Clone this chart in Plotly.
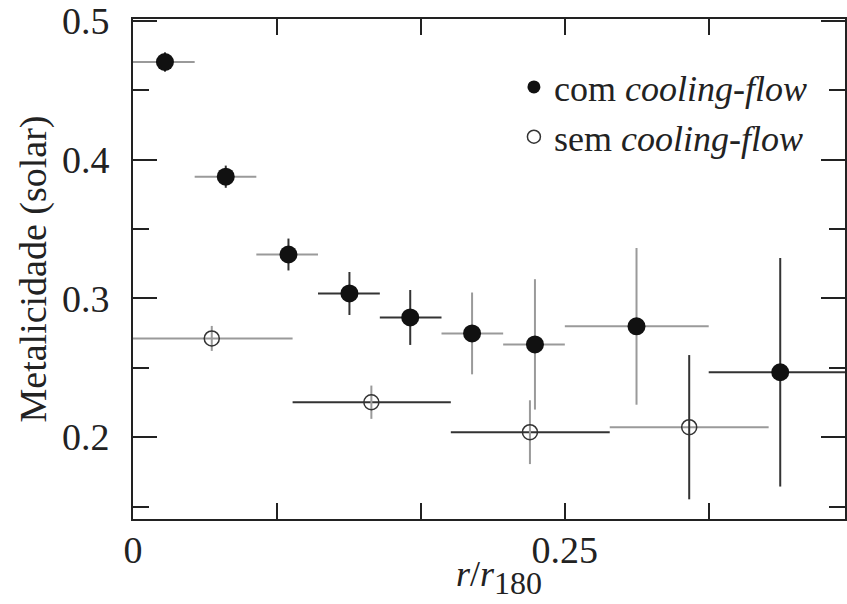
import plotly.graph_objects as go

# ---- data ----
# com cooling-flow (filled)
cf_x = [0.0185, 0.0537, 0.0900, 0.1253, 0.1605, 0.1963, 0.2327, 0.2915, 0.3747]
cf_x_lo = [0.0000, 0.0357, 0.0714, 0.1071, 0.1429, 0.1786, 0.2143, 0.2500, 0.3333]
cf_x_hi = [0.0357, 0.0714, 0.1071, 0.1429, 0.1786, 0.2143, 0.2500, 0.3333, 0.4160]
cf_y = [0.4705, 0.3878, 0.3317, 0.3036, 0.2863, 0.2748, 0.2669, 0.2799, 0.2468]
cf_yerr = [0.007, 0.008, 0.0115, 0.0155, 0.0198, 0.0295, 0.047, 0.0565, 0.0824]

# sem cooling-flow (open)
ncf_x = [0.0456, 0.1380, 0.2298, 0.3220]
ncf_x_lo = [0.0000, 0.0924, 0.1840, 0.2760]
ncf_x_hi = [0.0924, 0.1840, 0.2760, 0.3680]
ncf_y = [0.2712, 0.2252, 0.2036, 0.2072]
ncf_yerr = [0.009, 0.012, 0.023, 0.052]

x_ticks = [0, 0.25]
x_ticklabels = ["0", "0.25"]
y_ticks = [0.2, 0.3, 0.4, 0.5]
y_ticklabels = ["0.2", "0.3", "0.4", "0.5"]

# ---- styles ----
GRAY = "#9a9a9a"
DARK = "#333333"
cf_xcol = [GRAY, GRAY, GRAY, DARK, DARK, GRAY, GRAY, GRAY, DARK]
cf_ycol = [DARK, DARK, DARK, DARK, DARK, GRAY, GRAY, GRAY, DARK]
ncf_xcol = [GRAY, DARK, DARK, GRAY]
ncf_ycol = [GRAY, GRAY, GRAY, DARK]

FONT = "Liberation Serif, Times New Roman, serif"
fig = go.Figure()


def add_point(x, lo, hi, y, ye, xc, yc, size):
    fig.add_trace(go.Scatter(
        x=[x], y=[y], mode="markers",
        marker=dict(size=size, color="rgba(0,0,0,0)", line=dict(width=0)),
        error_x=dict(type="data", symmetric=False, array=[hi - x], arrayminus=[x - lo],
                     color=xc, thickness=2, width=0),
        showlegend=False, hoverinfo="skip"))
    fig.add_trace(go.Scatter(
        x=[x], y=[y], mode="markers",
        marker=dict(size=size, color="rgba(0,0,0,0)", line=dict(width=0)),
        error_y=dict(type="data", array=[ye], color=yc, thickness=2, width=0),
        showlegend=False, hoverinfo="skip"))


for i in range(len(cf_x)):
    add_point(cf_x[i], cf_x_lo[i], cf_x_hi[i], cf_y[i], cf_yerr[i], cf_xcol[i], cf_ycol[i], 18)
for i in range(len(ncf_x)):
    add_point(ncf_x[i], ncf_x_lo[i], ncf_x_hi[i], ncf_y[i], ncf_yerr[i], ncf_xcol[i], ncf_ycol[i], 15)

fig.add_trace(go.Scatter(x=cf_x, y=cf_y, mode="markers",
                         marker=dict(symbol="circle", size=18, color="#111111"),
                         showlegend=False, hoverinfo="skip"))
fig.add_trace(go.Scatter(x=ncf_x, y=ncf_y, mode="markers",
                         marker=dict(symbol="circle-open", size=15, color="#333333", line=dict(width=1.5)),
                         showlegend=False, hoverinfo="skip"))

fig.add_trace(go.Scatter(x=[None], y=[None], mode="markers", name="com <i>cooling-flow</i>",
                         legendgroup="a",
                         marker=dict(symbol="circle", size=13, color="#111111")))
fig.add_trace(go.Scatter(x=[None], y=[None], mode="markers", name="sem <i>cooling-flow</i>",
                         legendgroup="b",
                         marker=dict(symbol="circle-open", size=13, color="#333333", line=dict(width=1.5))))

axis_common = dict(showline=True, linecolor="#222222", linewidth=2, mirror="allticks",
                   ticks="inside", tickcolor="#222222", tickwidth=2, showgrid=False,
                   zeroline=False, ticklabeloverflow="allow",
                   tickfont=dict(family=FONT, size=38, color="#222222"))

fig.update_layout(
    width=847, height=604,
    margin=dict(l=133, r=0, t=18, b=85),
    paper_bgcolor="white", plot_bgcolor="white",
    font=dict(family=FONT, color="#222222"),
    xaxis=dict(range=[0, 0.4122], tickvals=x_ticks, ticktext=x_ticklabels, ticklen=16,
               ticklabelstandoff=-4,
               minor=dict(tick0=0, dtick=0.25 / 3, ticks="inside", ticklen=16, tickwidth=2, tickcolor="#222222"),
               **axis_common),
    yaxis=dict(range=[0.141, 0.5015], tickvals=y_ticks, ticktext=y_ticklabels, ticklen=24,
               ticklabelstandoff=14,
               minor=dict(tick0=0, dtick=0.05, ticks="inside", ticklen=16, tickwidth=2, tickcolor="#222222"),
               title=dict(text="Metalicidade (solar)", font=dict(family=FONT, size=38), standoff=4),
               **axis_common),
    legend=dict(x=0.535, y=0.924, xanchor="left", yanchor="top", bgcolor="rgba(0,0,0,0)",
                font=dict(family=FONT, size=36, color="#222222"), tracegroupgap=0,
                itemsizing="trace"),
    annotations=[dict(
        text="<i>r</i>/<i>r</i><sub><span style='font-size:32px'>180</span></sub>",
        xref="paper", yref="paper", x=0.514, y=-0.118, xanchor="center", yanchor="middle",
        showarrow=False, font=dict(family=FONT, size=36, color="#222222"))],
)

fig.write_html("out.html")
